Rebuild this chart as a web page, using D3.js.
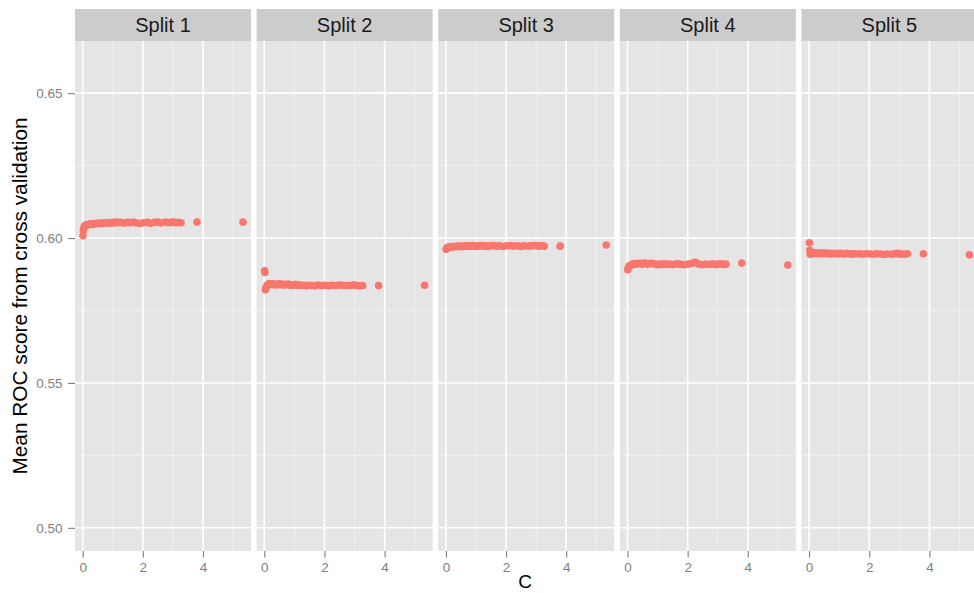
<!DOCTYPE html>
<html>
<head>
<meta charset="utf-8">
<script src="https://cdn.jsdelivr.net/npm/d3@7"></script>
<style>
  html, body { margin: 0; padding: 0; background: #ffffff; overflow: hidden; }
  svg { display: block; font-family: "Liberation Sans", Arial, Helvetica, sans-serif; }
</style>
</head>
<body>
<svg id="chart" width="974" height="593"></svg>
<script>
// Regularisation parameter C shared by all splits
const cValues = [
  0.01, 0.02, 0.04, 0.06, 0.08, 0.11, 0.14, 0.17, 0.21, 0.25,
  0.29, 0.33, 0.38, 0.43, 0.48, 0.53, 0.58, 0.63, 0.68, 0.74,
  0.80, 0.86, 0.92, 0.98, 1.04, 1.10, 1.17, 1.24, 1.32, 1.40,
  1.49, 1.58, 1.68, 1.78, 1.90, 2.02, 2.15, 2.25, 2.38, 2.50,
  2.60, 2.75, 2.85, 2.95, 3.02, 3.10, 3.18, 3.27, 3.80, 5.33
];

// Mean cross-validated ROC score for each split
const split1 = [
  0.6008, 0.6025, 0.6036, 0.6040, 0.6043, 0.6045, 0.6046, 0.6047, 0.6046, 0.6048,
  0.6049, 0.6047, 0.6050, 0.6049, 0.6051, 0.6050, 0.6052, 0.6050, 0.6052, 0.6053,
  0.6051, 0.6053, 0.6052, 0.6054, 0.6052, 0.6055, 0.6053, 0.6054, 0.6053, 0.6052,
  0.6054, 0.6053, 0.6055, 0.6052, 0.6050, 0.6053, 0.6054, 0.6051, 0.6054, 0.6055,
  0.6052, 0.6055, 0.6053, 0.6054, 0.6055, 0.6053, 0.6054, 0.6053, 0.6055, 0.6055
];
const split2 = [
  0.5887, 0.5881, 0.5822, 0.5829, 0.5834, 0.5838, 0.5841, 0.5842, 0.5840, 0.5842,
  0.5839, 0.5841, 0.5840, 0.5838, 0.5841, 0.5842, 0.5839, 0.5838, 0.5840, 0.5839,
  0.5841, 0.5837, 0.5838, 0.5838, 0.5840, 0.5837, 0.5838, 0.5836, 0.5837, 0.5835,
  0.5837, 0.5836, 0.5835, 0.5838, 0.5836, 0.5837, 0.5835, 0.5837, 0.5836, 0.5838,
  0.5837, 0.5836, 0.5836, 0.5838, 0.5837, 0.5836, 0.5835, 0.5836, 0.5836, 0.5837
];
const split3 = [
  0.5961, 0.5964, 0.5966, 0.5967, 0.5968, 0.5969, 0.5970, 0.5969, 0.5971, 0.5970,
  0.5971, 0.5970, 0.5972, 0.5971, 0.5972, 0.5970, 0.5972, 0.5973, 0.5973, 0.5971,
  0.5972, 0.5974, 0.5972, 0.5973, 0.5971, 0.5973, 0.5974, 0.5972, 0.5973, 0.5971,
  0.5973, 0.5974, 0.5972, 0.5973, 0.5971, 0.5973, 0.5974, 0.5972, 0.5973, 0.5971,
  0.5973, 0.5972, 0.5973, 0.5974, 0.5973, 0.5972, 0.5974, 0.5972, 0.5972, 0.5976
];
const split4 = [
  0.5891, 0.5896, 0.5900, 0.5903, 0.5905, 0.5907, 0.5908, 0.5909, 0.5911, 0.5910,
  0.5912, 0.5911, 0.5913, 0.5912, 0.5910, 0.5912, 0.5914, 0.5912, 0.5910, 0.5912,
  0.5913, 0.5911, 0.5910, 0.5909, 0.5908, 0.5910, 0.5909, 0.5911, 0.5909, 0.5910,
  0.5908, 0.5910, 0.5911, 0.5909, 0.5908, 0.5910, 0.5913, 0.5916, 0.5910, 0.5908,
  0.5910, 0.5909, 0.5911, 0.5908, 0.5910, 0.5911, 0.5909, 0.5910, 0.5914, 0.5907
];
const split5 = [
  0.5984, 0.5958, 0.5944, 0.5946, 0.5948, 0.5949, 0.5947, 0.5948, 0.5949, 0.5947,
  0.5946, 0.5948, 0.5947, 0.5948, 0.5946, 0.5947, 0.5948, 0.5946, 0.5945, 0.5947,
  0.5946, 0.5946, 0.5947, 0.5945, 0.5947, 0.5946, 0.5945, 0.5947, 0.5946, 0.5944,
  0.5946, 0.5945, 0.5946, 0.5944, 0.5946, 0.5945, 0.5944, 0.5946, 0.5945, 0.5943,
  0.5945, 0.5944, 0.5946, 0.5947, 0.5944, 0.5945, 0.5944, 0.5946, 0.5946, 0.5942
];

const splitNames = ["Split 1", "Split 2", "Split 3", "Split 4", "Split 5"];
const splitValues = [split1, split2, split3, split4, split5];

const xTicks = [0, 2, 4];
const xMinorTicks = [1, 3, 5];
const yTicks = [0.50, 0.55, 0.60, 0.65];
const yMinorTicks = [0.525, 0.575, 0.625];
const yLimits = [0.50, 0.66];

const panels = splitNames.map((name, i) => ({
  name,
  points: cValues.map((c, j) => ({ c, score: splitValues[i][j] }))
}));

// Layout
const panelTop = 41, panelBottom = 551, stripTop = 9;
const firstLeft = 75, panelWidth = 176, panelGap = 5.6;

// ggplot-style 5% expansion
function expand([lo, hi]) {
  const pad = (hi - lo) * 0.05;
  return [lo - pad, hi + pad];
}
const cExtent = d3.extent(cValues);

const y = d3.scaleLinear().domain(expand(yLimits)).range([panelBottom, panelTop]);

const svg = d3.select("#chart");
const fmtY = d3.format(".2f");

panels.forEach((p, i) => {
  const left = firstLeft + i * (panelWidth + panelGap);
  const x = d3.scaleLinear().domain(expand(cExtent)).range([left, left + panelWidth]);
  const g = svg.append("g");

  // Panel background
  g.append("rect")
    .attr("x", left).attr("y", panelTop)
    .attr("width", panelWidth).attr("height", panelBottom - panelTop)
    .attr("fill", "#E5E5E5");

  // Minor grid
  g.selectAll(".vminor").data(xMinorTicks).join("line")
    .attr("x1", d => x(d)).attr("x2", d => x(d))
    .attr("y1", panelTop).attr("y2", panelBottom)
    .attr("stroke", "#F2F2F2").attr("stroke-width", 0.8);
  g.selectAll(".hminor").data(yMinorTicks).join("line")
    .attr("x1", left).attr("x2", left + panelWidth)
    .attr("y1", d => y(d)).attr("y2", d => y(d))
    .attr("stroke", "#F2F2F2").attr("stroke-width", 0.8);

  // Major grid
  g.selectAll(".vmajor").data(xTicks).join("line")
    .attr("x1", d => x(d)).attr("x2", d => x(d))
    .attr("y1", panelTop).attr("y2", panelBottom)
    .attr("stroke", "#FFFFFF").attr("stroke-width", 1.6);
  g.selectAll(".hmajor").data(yTicks).join("line")
    .attr("x1", left).attr("x2", left + panelWidth)
    .attr("y1", d => y(d)).attr("y2", d => y(d))
    .attr("stroke", "#FFFFFF").attr("stroke-width", 1.6);

  // Strip
  g.append("rect")
    .attr("x", left).attr("y", stripTop)
    .attr("width", panelWidth).attr("height", panelTop - stripTop)
    .attr("fill", "#CCCCCC");
  g.append("text")
    .attr("x", left + panelWidth / 2).attr("y", (stripTop + panelTop) / 2 + 7)
    .attr("text-anchor", "middle")
    .attr("font-size", 20).attr("fill", "#1A1A1A")
    .text(p.name);

  // Points
  g.selectAll("circle").data(p.points).join("circle")
    .attr("cx", d => x(d.c)).attr("cy", d => y(d.score))
    .attr("r", 3.8).attr("fill", "#F8766D");

  // X axis
  const xAxis = d3.axisBottom(x).tickValues(xTicks).tickSize(6.5).tickPadding(5).tickFormat(d3.format("d"));
  const ax = g.append("g").attr("transform", `translate(0,${panelBottom})`).call(xAxis);
  ax.select(".domain").remove();
  ax.selectAll(".tick line").attr("stroke", "#7F7F7F").attr("stroke-width", 1.1);
  ax.selectAll(".tick text").attr("fill", "#7F7F7F").attr("font-size", 13.5)
    .attr("font-family", "Liberation Sans, Arial, sans-serif");
});

// Y axis (left of first panel)
const yAxis = d3.axisLeft(y).tickValues(yTicks).tickSize(7).tickPadding(5.5).tickFormat(fmtY);
const ay = svg.append("g").attr("transform", `translate(${firstLeft},0)`).call(yAxis);
ay.select(".domain").remove();
ay.selectAll(".tick line").attr("stroke", "#7F7F7F").attr("stroke-width", 1.1);
ay.selectAll(".tick text").attr("fill", "#7F7F7F").attr("font-size", 13.5)
  .attr("font-family", "Liberation Sans, Arial, sans-serif");

// Axis titles
svg.append("text")
  .attr("transform", `translate(27,${(panelTop + panelBottom) / 2}) rotate(-90)`)
  .attr("text-anchor", "middle")
  .attr("font-size", 20.8).attr("fill", "#000000")
  .text("Mean ROC score from cross validation");

svg.append("text")
  .attr("x", 525).attr("y", 588)
  .attr("text-anchor", "middle")
  .attr("font-size", 19).attr("fill", "#000000")
  .text("C");
</script>
</body>
</html>
